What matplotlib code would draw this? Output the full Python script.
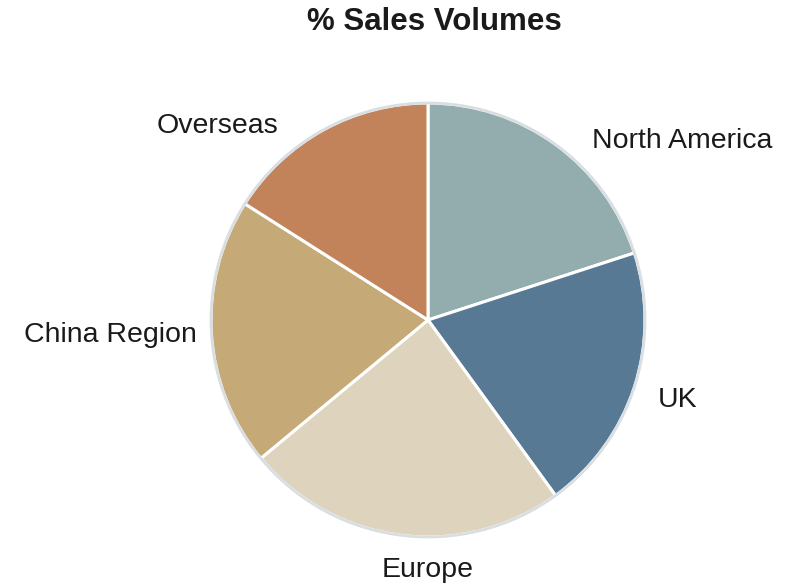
import matplotlib.pyplot as plt
from matplotlib.patches import Circle

plt.rcParams['font.family'] = ['Liberation Sans', 'DejaVu Sans']

# datos del grafico
regiones = ['North America', 'UK', 'Europe', 'China Region', 'Overseas']
ventas = [20, 20, 24, 20, 16]
colores = ['#93acad', '#587994', '#ded4bd', '#c5a976', '#c2825a']

# posiciones de las etiquetas en pixeles (x, linea base, alineacion)
pos_etiquetas = [(682, 148, 'center'), (658, 407, 'left'), (428, 577, 'center'),
                 (197, 342, 'right'), (278, 133, 'right')]

W, H = 790, 586
cx, cy, R = 428, 320, 217

fig = plt.figure(figsize=(W / 100, H / 100), dpi=100)
ax = fig.add_axes([0, 0, 1, 1])
ax.set_xlim(-cx / R, (W - cx) / R)
ax.set_ylim(-(H - cy) / R, cy / R)
ax.axis('off')

ax.pie(ventas, colors=colores, startangle=90, counterclock=False, radius=1,
       wedgeprops={'edgecolor': 'white', 'linewidth': 2.2})
ax.add_patch(Circle((0, 0), 1.0, fill=False, edgecolor='#d9dee2', linewidth=2))
ax.set_xlim(-cx / R, (W - cx) / R)
ax.set_ylim(-(H - cy) / R, cy / R)
ax.set_aspect('auto')

for nombre, (px, py, ha) in zip(regiones, pos_etiquetas):
    ax.text((px - cx) / R, (cy - py) / R, nombre, ha=ha, va='baseline',
            fontsize=20.5, color='#1a1a1a')

fig.text(434 / W, 1 - 30 / H, '% Sales Volumes', ha='center', va='baseline',
         fontsize=22.5, fontweight='bold', color='#1a1a1a')

plt.savefig('out.png', dpi=100)
